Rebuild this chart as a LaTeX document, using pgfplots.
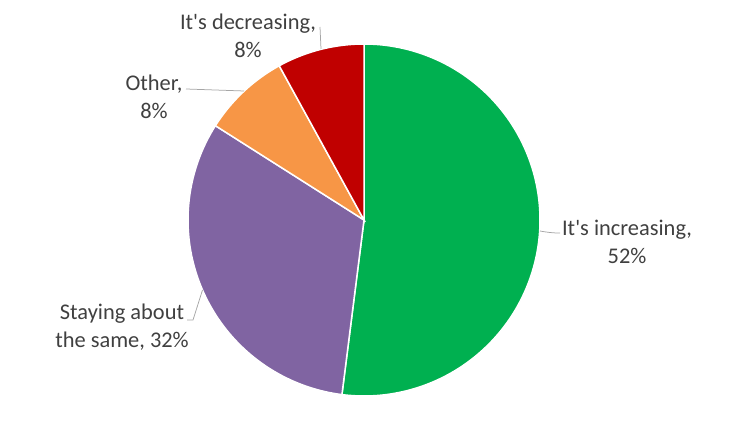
\documentclass[border=0pt]{standalone}
\usepackage{pgfplots}
\pgfplotsset{compat=1.18}
\usepackage{fontspec}
\setmainfont{Carlito}[Ligatures=TeXOff]
\definecolor{pieGreen}{HTML}{00B050}
\definecolor{piePurple}{HTML}{8064A2}
\definecolor{pieOrange}{HTML}{F79646}
\definecolor{pieRed}{HTML}{C00000}
\definecolor{txt}{HTML}{404040}
\definecolor{lead}{HTML}{A6A6A6}
% shares in percent
\def\vA{52}% It's increasing
\def\vB{32}% Staying about the same
\def\vC{8}%  Other
\def\vD{8}%  It's decreasing
\begin{document}
\begin{tikzpicture}
\pgfmathsetmacro\aA{90}
\pgfmathsetmacro\aB{\aA-3.6*\vA}
\pgfmathsetmacro\aC{\aB-3.6*\vB}
\pgfmathsetmacro\aD{\aC-3.6*\vC}
\pgfmathsetmacro\aE{\aD-3.6*\vD}
\path[use as bounding box] (0,0) rectangle (748bp,437bp);
\begin{axis}[scale only axis, width=748bp, height=437bp,
  xmin=0, xmax=748, ymin=0, ymax=437, hide axis, clip=false]
\addplot[fill=pieGreen, draw=white, line width=1.5bp, domain=\aB:\aA, samples=150, variable=\t]
  ({364+176*cos(\t)},{217+176*sin(\t)}) -- (axis cs:364,217) -- cycle;
\addplot[fill=piePurple, draw=white, line width=1.5bp, domain=\aC:\aB, samples=100, variable=\t]
  ({364+176*cos(\t)},{217+176*sin(\t)}) -- (axis cs:364,217) -- cycle;
\addplot[fill=pieOrange, draw=white, line width=1.5bp, domain=\aD:\aC, samples=40, variable=\t]
  ({364+176*cos(\t)},{217+176*sin(\t)}) -- (axis cs:364,217) -- cycle;
\addplot[fill=pieRed, draw=white, line width=1.5bp, domain=\aE:\aD, samples=40, variable=\t]
  ({364+176*cos(\t)},{217+176*sin(\t)}) -- (axis cs:364,217) -- cycle;
% leader lines
\draw[lead, line width=0.75bp] (axis cs:540,206) to[out=-10,in=180] (axis cs:560,204);
\draw[lead, line width=0.75bp] (axis cs:202.5,147) -- (axis cs:193,117) -- (axis cs:187,117);
\draw[lead, line width=0.75bp] (axis cs:244,346) -- (axis cs:186,348);
\draw[lead, line width=0.75bp] (axis cs:321,388) -- (axis cs:320,410);
% labels
\tikzset{lbl/.style={text=txt, align=center, inner sep=0pt, font=\fontsize{22.5}{28}\selectfont}}
\node[lbl] at (axis cs:627,195) {It's increasing,\\\vA\%};
\node[lbl] at (axis cs:122,109.5) {Staying about\\the same, \vB\%};
\node[lbl] at (axis cs:154,340) {Other,\\\vC\%};
\node[lbl] at (axis cs:248,401.5) {It's decreasing,\\\vD\%};
\end{axis}
\end{tikzpicture}
\end{document}
